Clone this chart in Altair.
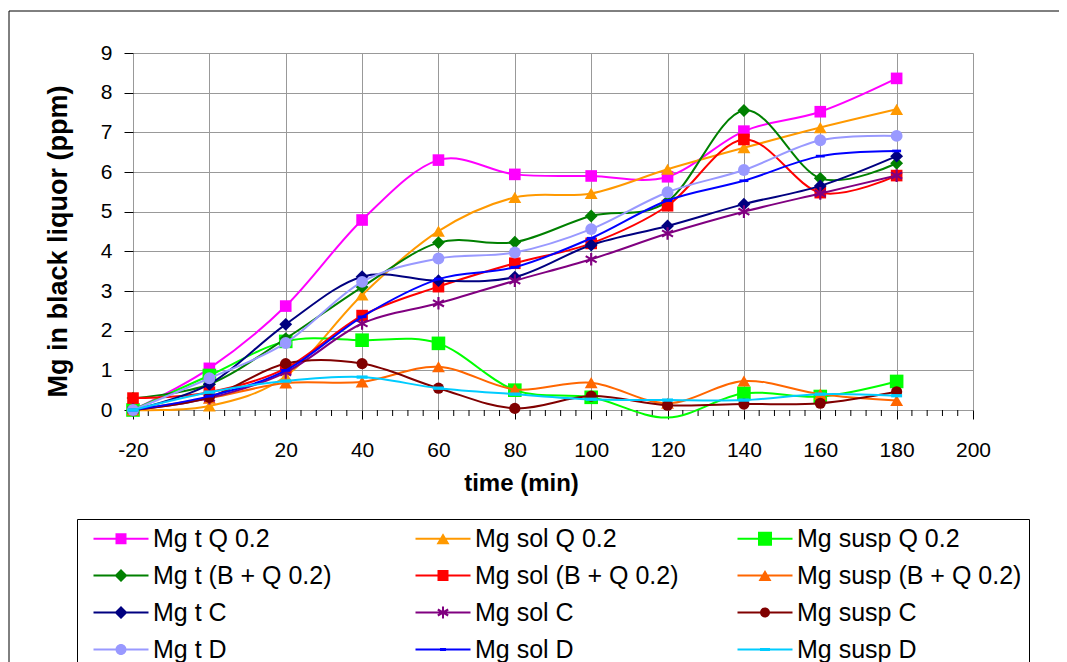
import altair as alt
import pandas as pd

# ---------------- data ----------------
time_min = [-20, 0, 20, 40, 60, 80, 100, 120, 140, 160, 180]

series_names = [
    "Mg t Q 0.2", "Mg sol Q 0.2", "Mg susp Q 0.2",
    "Mg t (B + Q 0.2)", "Mg sol (B + Q 0.2)", "Mg susp (B + Q 0.2)",
    "Mg t C", "Mg sol C", "Mg susp C",
    "Mg t D", "Mg sol D", "Mg susp D",
]

mg_t_q = [0.0, 1.05, 2.62, 4.79, 6.30, 5.94, 5.90, 5.88, 7.03, 7.52, 8.36]
mg_sol_q = [0.0, 0.10, 0.85, 2.90, 4.51, 5.36, 5.46, 6.07, 6.61, 7.12, 7.58]
mg_susp_q = [0.0, 0.87, 1.73, 1.76, 1.68, 0.50, 0.32, -0.19, 0.42, 0.34, 0.72]
mg_t_bq = [0.30, 0.65, 1.80, 3.10, 4.22, 4.23, 4.89, 5.26, 7.55, 5.84, 6.22]
mg_sol_bq = [0.30, 0.45, 1.05, 2.38, 3.11, 3.70, 4.20, 5.15, 6.82, 5.48, 5.91]
mg_susp_bq = [0.0, 0.30, 0.68, 0.71, 1.09, 0.52, 0.69, 0.17, 0.73, 0.40, 0.24]
mg_t_c = [0.0, 0.65, 2.16, 3.36, 3.26, 3.35, 4.16, 4.64, 5.19, 5.65, 6.40]
mg_sol_c = [0.0, 0.30, 0.95, 2.18, 2.69, 3.26, 3.80, 4.45, 5.00, 5.46, 5.91]
mg_susp_c = [0.0, 0.32, 1.17, 1.17, 0.55, 0.04, 0.35, 0.12, 0.15, 0.17, 0.46]
mg_t_d = [0.0, 0.80, 1.69, 3.23, 3.82, 3.97, 4.56, 5.49, 6.05, 6.80, 6.91]
mg_sol_d = [0.0, 0.35, 1.00, 2.35, 3.30, 3.60, 4.33, 5.28, 5.78, 6.40, 6.53]
mg_susp_d = [0.0, 0.45, 0.73, 0.83, 0.55, 0.40, 0.27, 0.25, 0.25, 0.40, 0.36]

series_values = [mg_t_q, mg_sol_q, mg_susp_q, mg_t_bq, mg_sol_bq, mg_susp_bq,
                 mg_t_c, mg_sol_c, mg_susp_c, mg_t_d, mg_sol_d, mg_susp_d]

x_tick_values = [-20, 0, 20, 40, 60, 80, 100, 120, 140, 160, 180, 200]
x_minor_ticks = [-16, -12, -8, -4, 4, 8, 12, 16, 24, 28, 32, 36, 44, 48, 52, 56,
                 64, 68, 72, 76, 84, 88, 92, 96, 104, 108, 112, 116, 124, 128,
                 132, 136, 144, 148, 152, 156, 164, 168, 172, 176, 184, 188,
                 192, 196]
y_tick_values = [0, 1, 2, 3, 4, 5, 6, 7, 8, 9]

# ---------------- styles ----------------
colors = ["#FF00FF", "#FF9900", "#00FF00",
          "#008000", "#FF0000", "#FF6600",
          "#000080", "#800080", "#800000",
          "#9999FF", "#0000FF", "#00CCFF"]

STAR = ("M-0.17,-1H0.17V1H-0.17Z "
        "M0.781,0.647L-0.951,-0.353L-0.781,-0.647L0.951,0.353Z "
        "M0.951,-0.353L-0.781,0.647L-0.951,0.353L0.781,-0.647Z")
DASH = "M-1,-0.3H1V0.3H-1Z"

marker_shapes = ["square", "triangle-up", "square",
                 "diamond", "square", "triangle-up",
                 "diamond", STAR, "circle",
                 "circle", DASH, DASH]
marker_sizes = [135, 165, 185,
                165, 135, 165,
                165, 160, 125,
                140, 80, 120]

# legend glyphs: line + marker (unit = 10 px)
CX = 2.45
BASE = "M-0.3,-0.1H5.2V0.1H-0.3Z "


def sq(h):
    return f"M{CX-h:.3f},{-h:.3f}H{CX+h:.3f}V{h:.3f}H{CX-h:.3f}Z"


def dia(h):
    return f"M{CX:.3f},{-h:.3f}L{CX+h:.3f},0L{CX:.3f},{h:.3f}L{CX-h:.3f},0Z"


def tri(w, h):
    return f"M{CX:.3f},{-h:.3f}L{CX+w:.3f},{h:.3f}L{CX-w:.3f},{h:.3f}Z"


def circ(r):
    return (f"M{CX+r:.3f},0A{r},{r} 0 1,1 {CX-r:.3f},0"
            f"A{r},{r} 0 1,1 {CX+r:.3f},0Z")


def rect(w, h):
    return f"M{CX-w:.3f},{-h:.3f}H{CX+w:.3f}V{h:.3f}H{CX-w:.3f}Z"


def star(s):
    pts = [[(-0.17, -1), (0.17, -1), (0.17, 1), (-0.17, 1)],
           [(0.781, 0.647), (-0.951, -0.353), (-0.781, -0.647), (0.951, 0.353)],
           [(0.951, -0.353), (-0.781, 0.647), (-0.951, 0.353), (0.781, -0.647)]]
    out = []
    for poly in pts:
        seg = "M" + "L".join(f"{CX + x*s:.3f},{y*s:.3f}" for x, y in poly) + "Z"
        out.append(seg)
    return " ".join(out)


legend_marks = [sq(0.55), tri(0.65, 0.56), sq(0.7),
                dia(0.65), sq(0.55), tri(0.65, 0.56),
                dia(0.65), star(0.6), circ(0.5),
                circ(0.55), rect(0.3, 0.15), rect(0.5, 0.15)]
legend_paths = [BASE + m for m in legend_marks]

FONT = "Liberation Sans"

# ---------------- table ----------------
rows = []
for name, vals in zip(series_names, series_values):
    for t, v in zip(time_min, vals):
        rows.append({"series": name, "time": t, "value": v})
df = pd.DataFrame(rows)

x_enc = alt.X(
    "time:Q",
    scale=alt.Scale(domain=[-20, 200], nice=False, zero=False),
    axis=alt.Axis(
        values=x_tick_values, title="time (min)", titleFont=FONT,
        titleFontSize=24, titleFontWeight="bold", titleColor="black",
        titleX=388, titleY=73, titleAlign="center", titleBaseline="middle",
        labelFont=FONT, labelFontSize=21, labelColor="black", labelPadding=20,
        labelFlush=False, labelOverlap=False, labelExpr="datum.value + ''",
        tickSize=9, tickColor="black", tickWidth=1,
        domain=False, grid=True, gridColor="#999999", gridWidth=1,
    ),
)
y_enc = alt.Y(
    "value:Q",
    scale=alt.Scale(domain=[0, 9], nice=False, zero=False),
    axis=alt.Axis(
        values=y_tick_values, title="Mg in black liquor (ppm)", titleFont=FONT,
        titleFontSize=27, titleFontWeight="bold", titleColor="black",
        titleX=-75, titleY=188, titleAlign="center", titleBaseline="middle",
        titleAngle=270,
        labelFont=FONT, labelFontSize=21, labelColor="black", labelPadding=12,
        labelFlush=False, labelOverlap=False,
        tickSize=9, tickColor="black", tickWidth=1,
        domain=False, grid=True, gridColor="#999999", gridWidth=1,
    ),
)

frame_df = pd.DataFrame({"frame": [0]})
layers = [
    alt.Chart(frame_df).mark_rule(color="black", strokeWidth=1).encode(
        x=alt.value(-124), x2=alt.value(1000), y=alt.value(-42)),
    alt.Chart(frame_df).mark_rule(color="black", strokeWidth=1).encode(
        x=alt.value(-124), y=alt.value(-42), y2=alt.value(700)),
    alt.Chart(pd.DataFrame({"time": x_minor_ticks})).mark_rule(
        color="black", strokeWidth=1).encode(
        x=x_enc, y=alt.value(357), y2=alt.value(363)),
]

for i, name in enumerate(series_names):
    base = alt.Chart(df).transform_filter(alt.datum.series == name)
    layers.append(
        base.mark_line(color=colors[i], strokeWidth=2, interpolate="cardinal")
        .encode(x=x_enc, y=y_enc)
    )
    layers.append(
        base.transform_filter("datum.value >= 0")
        .mark_point(shape=marker_shapes[i], size=marker_sizes[i], filled=True,
                    color=colors[i], opacity=1, strokeWidth=0)
        .encode(x=x_enc, y=y_enc)
    )

legend = alt.Legend(
    title=None, orient="none", legendX=-56, legendY=466, direction="horizontal",
    columns=3, gridAlign="all", columnPadding=28, rowPadding=11,
    labelFont=FONT, labelFontSize=25, labelColor="black", labelLimit=600,
    labelOffset=44, symbolSize=400, symbolStrokeWidth=0, symbolOffset=0,
    symbolOpacity=1, padding=7, strokeColor="black", fillColor="white",
)

layers.append(
    alt.Chart(df).transform_filter("false")
    .mark_point(filled=True, opacity=1)
    .encode(
        x=x_enc, y=y_enc,
        color=alt.Color("series:N", scale=alt.Scale(domain=series_names, range=colors),
                        legend=legend),
        shape=alt.Shape("series:N", scale=alt.Scale(domain=series_names, range=legend_paths),
                        legend=legend),
    )
)

chart = (
    alt.layer(*layers)
    .properties(
        width=840, height=357,
        autosize=alt.AutoSizeParams(type="none"),
        padding={"left": 125, "top": 45, "right": 86, "bottom": 260},
        background="white",
    )
    .configure_view(stroke="black", strokeWidth=2)
    .configure(font=FONT)
)

chart.save("out.html", embed_options={"renderer": "svg", "actions": False})
